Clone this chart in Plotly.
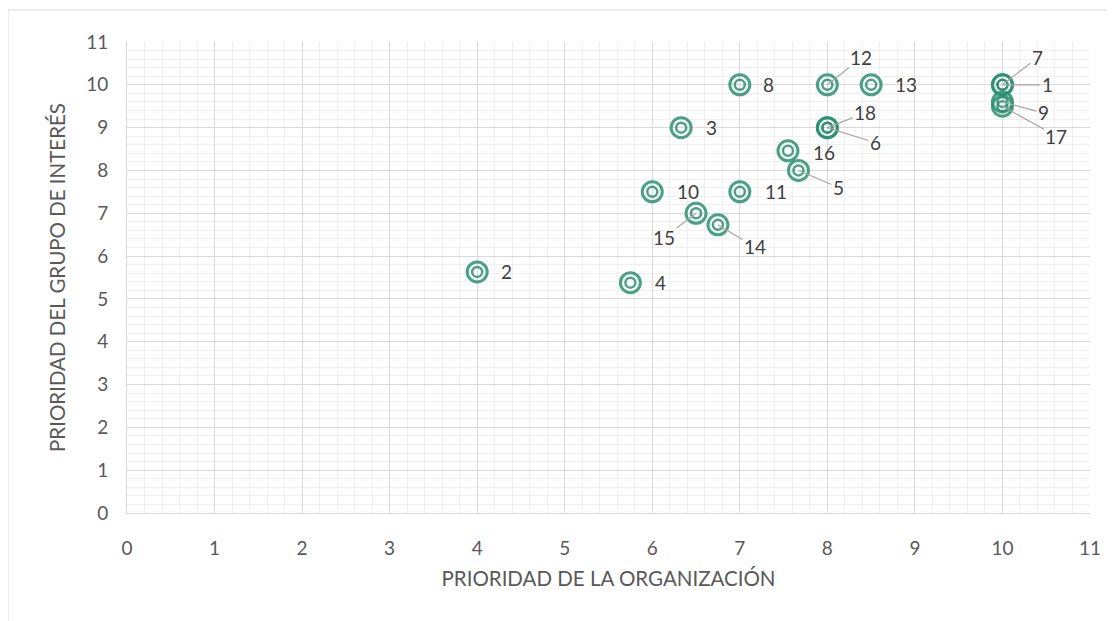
import plotly.graph_objects as go

ids = [1, 2, 3, 4, 5, 6, 7, 8, 9, 10, 11, 12, 13, 14, 15, 16, 17, 18]
org = [10, 4, 6.33, 5.75, 7.67, 8, 10, 7, 10, 6, 7, 8, 8.5, 6.75, 6.5, 7.55, 10, 8]
grp = [10, 5.63, 9, 5.38, 8, 9, 10, 10, 9.6, 7.5, 7.5, 10, 10, 6.73, 7, 8.46, 9.5, 9]

x_ticks = list(range(0, 12))
y_ticks = list(range(0, 12))
x_title = "PRIORIDAD DE LA ORGANIZACIÓN"
y_title = "PRIORIDAD DEL GRUPO DE INTERÉS"

# label offsets in screen pixels (dx right, dy down) and whether a leader line is drawn
label_pos = {
    1: (45, 0, True), 2: (29, 0, False), 3: (30, 0, False), 4: (30, 0, False),
    5: (40, 17, True), 6: (48, 15, True), 7: (35, -27, True), 8: (29, 0, False),
    9: (41, 11, True), 10: (36, 0, False), 11: (36, 0, False), 12: (34, -27, True),
    13: (35, 0, False), 14: (37, 22, True), 15: (-32, 24, True), 16: (36, 2, False),
    17: (54, 30, True), 18: (38, -15, True),
}

teal = "rgba(42,145,112,0.85)"
font = "Lato"
txt_col = "#404040"
axis_col = "#595959"
fs = 19
fs_title = 20.5

fig = go.Figure()
fig.add_trace(go.Scatter(x=org, y=grp, mode="markers", hoverinfo="skip",
                         marker=dict(symbol="circle-open", size=20, color=teal,
                                     line=dict(width=3, color=teal))))
fig.add_trace(go.Scatter(x=org, y=grp, mode="markers", text=[str(i) for i in ids],
                         marker=dict(symbol="circle-open", size=10, color=teal,
                                     line=dict(width=2.5, color=teal))))

for i, xv, yv in zip(ids, org, grp):
    dx, dy, leader = label_pos[i]
    if leader:
        fig.add_annotation(x=xv, y=yv, text=str(i), showarrow=True, arrowhead=0,
                           arrowwidth=1.2, arrowcolor="#a6a6a6", ax=dx, ay=dy,
                           standoff=0, font=dict(size=fs, color=txt_col, family=font))
    else:
        fig.add_annotation(x=xv, y=yv, text=str(i), showarrow=False,
                           xshift=dx, yshift=-dy,
                           font=dict(size=fs, color=txt_col, family=font))

axis_common = dict(
    showgrid=True, gridcolor="#d9d9d9", gridwidth=1,
    minor=dict(showgrid=True, gridcolor="#f0f0f0", gridwidth=1, dtick=0.2, tick0=0),
    zeroline=False, showline=True, linecolor="#d9d9d9", linewidth=1,
    ticks="", tickfont=dict(size=fs, color=axis_col, family=font),
    fixedrange=True,
)

fig.update_xaxes(range=[0, 11], tickvals=x_ticks, ticktext=[str(t) for t in x_ticks],
                 ticklabelstandoff=18,
                 title=dict(text=x_title, font=dict(size=fs_title, color=axis_col, family=font),
                            standoff=13), **axis_common)
fig.update_yaxes(range=[0, 11], tickvals=y_ticks, ticktext=[str(t) for t in y_ticks],
                 ticklabelstandoff=14,
                 title=dict(text=y_title, font=dict(size=fs_title, color=axis_col, family=font),
                            standoff=14), **axis_common)

fig.add_shape(type="line", xref="paper", yref="paper", x0=-0.1236, x1=-0.1236, y0=-0.3, y1=1.068,
              line=dict(color="#d9d9d9", width=1))
fig.add_shape(type="line", xref="paper", yref="paper", x0=-0.1236, x1=1.05, y0=1.068, y1=1.068,
              line=dict(color="#d9d9d9", width=1))

fig.update_layout(
    width=1107, height=613, showlegend=False,
    plot_bgcolor="white", paper_bgcolor="white",
    margin=dict(l=119, r=25, t=34, b=108),
    font=dict(family=font),
)

fig.write_html("out.html")
